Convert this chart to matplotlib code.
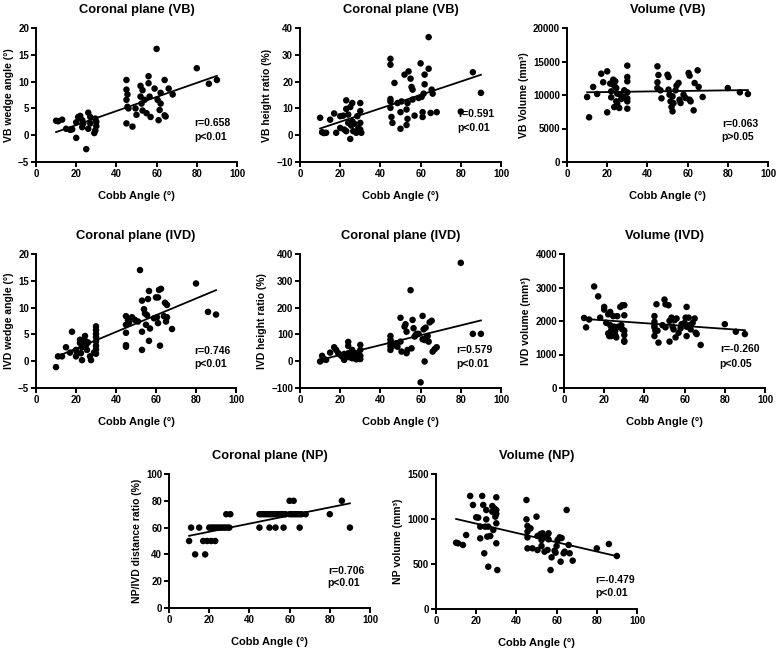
import numpy as np
import matplotlib
matplotlib.use("Agg")
from matplotlib import pyplot as plt

plt.rcParams['font.family'] = ['Liberation Sans', 'DejaVu Sans']
plt.rcParams['font.weight'] = 'bold'

# ---- data ----
vb_wedge_x = [10, 11, 13, 15, 17, 18, 20, 20, 21, 22, 23, 23, 23.5, 25, 26, 26, 27, 27, 29, 29.5, 30, 30, 29.5,
              45, 45, 45.5, 45, 45.5, 45, 46, 48, 50, 49.5, 52, 52, 52.5, 53, 53, 54, 55, 56, 56, 56.5, 57, 59, 60,
              60.5, 61, 61.5, 62, 62, 64, 64, 64.5, 66, 68, 80, 86, 90]
vb_wedge_y = [2.7, 2.6, 2.9, 1.2, 1.0, 1.1, -0.5, 2.4, 3.4, 3.6, 1.5, 2.8, 2.2, -2.6, 4.2, 1.2, 3.4, 2.2, 0.4, 3.1,
              2.5, 1.7, 0.9,
              10.3, 8.5, 7.6, 6.6, 5.3, 2.2, 5.0, 1.6, 3.8, 5.0, 9.2, 7.2, 5.9, 4.6, 8.4, 6.6, 4.1, 11.0, 9.7,
              7.2, 3.4, 8.7, 16.1, 6.6, 2.8, 4.7, 7.9, 5.9, 10.3, 3.7, 3.5, 8.7, 7.6, 12.5, 9.6, 10.3]

vb_height_x = [10, 11, 13, 12, 15, 17, 18, 20, 20, 21.5, 22, 23, 23, 23, 24, 24, 25, 25, 25.5, 26, 26, 26.5, 27,
               28, 28.5, 29, 30, 30, 30, 30, 30.5,
               45, 45, 45, 45, 45, 45.5, 46, 47, 48.5, 50, 50, 50.5, 52, 53, 53.5, 53, 53.5, 54, 55, 55.5, 56,
               56, 57, 59, 60, 60.5, 61, 61, 61.5, 62, 62, 64, 64, 65, 65.5, 66, 68, 80, 86, 90]
vb_height_y = [6.5, 1.1, 0.9, 0.8, 5.8, 8.1, 0.9, 7.1, 2.7, 7.3, 2.1, 9.8, 13.0, 1.5, 7.7, 4.6, 10.5, -1.4, 3.6,
               12.0, 5.2, 1.5, 4.3, 0.9, 7.1, 2.7, 12.0, 9.0, 4.6, 2.1, 0.9,
               28.5, 26.3, 13.5, 12.6, 10.2, 6.8, 4.6, 19.5, 12.0, 2.4, 8.6, 12.6, 22.6, 9.6, 12.0, 3.8, 6.1,
               23.8, 21.1, 18.0, 17.0, 13.3, 7.3, 13.9, 26.8, 14.3, 6.8, 8.6, 15.5, 22.6, 19.0, 36.6, 24.8, 8.3,
               17.0, 15.5, 8.6, 8.8, 23.5, 15.8]

vb_vol_x = [10, 11, 13, 15, 17, 18, 20, 20, 21.5, 22, 22, 23, 23.5, 23.5, 24, 24.5, 24.5, 25, 25, 26, 26.5, 27,
            28, 28.5, 30, 30, 30, 30, 30, 30, 30,
            45, 45.5, 45, 45, 46.5, 47, 50, 50.5, 50.5, 51, 51.5, 52, 52.5, 52.5, 53, 54, 54.5, 55.5, 56, 56.5,
            58, 59, 60.5, 61, 61, 61.5, 63, 63.5, 65, 65.5, 67.5, 80, 86, 90]
vb_vol_y = [9700, 6670, 11200, 10150, 13180, 11900, 13530, 7410, 11700, 10550, 9650, 12290, 11400, 8200, 12050,
            11040, 9050, 10200, 8700, 8060, 10050, 9400, 9700, 10700, 14380, 12690, 12040, 10400, 9050, 7960,
            9500,
            14280, 12980, 11890, 11040, 10700, 9500, 13030, 12690, 10800, 10050, 9050, 8200, 7560, 9800, 8800,
            10700, 11400, 11800, 9300, 8800, 10050, 9550, 13280, 12890, 9300, 9050, 7710, 11790, 13680, 11200,
            9700, 11040, 10400, 10150]

ivd_wedge_x = [10, 11, 13, 15, 17, 18, 20, 20, 20.5, 22, 22, 22.5, 23, 23, 23.5, 24.5, 24.5, 25, 25.5, 26, 27,
               27.5, 29, 30, 30, 30, 30, 30, 30, 30, 30,
               45, 45, 45, 45, 45, 46, 46.5, 48, 49.5, 51, 52, 53, 53, 53, 54, 54.5, 55, 55.5, 56, 56.5, 56.5,
               57, 59, 60, 60.5, 61, 61, 61.5, 62, 62.5, 64, 64.5, 65, 65.5, 65.5, 68, 80, 86, 90]
ivd_wedge_y = [-1.1, 0.9, 0.9, 2.6, 1.6, 5.5, 2.1, 0.9, 1.6, 4.0, 3.4, 1.5, 2.6, 0.2, 3.7, 4.7, 3.8, 3.0, 2.1,
               3.5, 0.9, 0.2, 1.6, 6.5, 5.8, 5.1, 4.5, 3.7, 2.9, 2.2, 1.4,
               8.4, 6.8, 5.3, 3.0, 2.7, 7.7, 7.2, 8.2, 7.7, 7.4, 17.0, 11.3, 5.5, 2.1, 9.7, 8.9, 6.8, 8.6, 11.6,
               13.1, 3.8, 6.1, 8.0, 11.9, 8.2, 7.1, 11.9, 13.3, 2.9, 13.5, 8.4, 10.9, 7.4, 10.5, 8.2, 6.0, 14.5,
               9.2, 8.7]

ivd_height_x = [10, 11, 12, 13, 15, 17, 18, 19, 20, 21, 22, 22, 23, 24, 24, 24, 24.5, 25, 26, 26, 27, 28, 28,
                29, 30, 30, 30, 30,
                45, 45, 45, 45, 45, 45.5, 46, 48, 48.5, 50, 50, 50.5, 52, 52.5, 53, 53, 53.5, 55, 55.5, 56, 56.5,
                57, 57.5, 58, 59, 60, 61, 61, 61.5, 62, 62, 62.5, 63, 63.5, 64, 64.5, 65.5, 66, 67, 68, 80, 86, 90]
ivd_height_y = [-1, 20, 7, 5, 32, 52, 42, 30, 24, 17, 27, 5, 20, 72, 57, 30, 15, 22, 42, 11, 30, 15, 7, 24, 61,
                42, 20, 8,
                94, 80, 67, 55, 42, 70, 57, 67, 54, 73, 162, 36, 129, 138, 110, 30, 42, 265, 48, 154, 123, 92,
                96, 102, 102, -79, 169, 82, 119, 79, -1, 125, 90, 94, 73, 145, 151, 36, 45, 52, 367, 102, 102]

ivd_vol_x = [10, 11, 12.5, 15, 17, 18, 20, 20, 21, 22, 22, 22.5, 23, 23, 23.5, 23.5, 24.5, 25, 25.5, 25.5, 26,
             26.5, 27, 28, 28.5, 29, 29, 30, 30, 30, 30, 30, 30,
             45, 45, 45, 45, 45, 45.5, 46, 46.5, 47, 49, 50, 50.5, 50.5, 52, 52.5, 52.5, 53.5, 54, 54.5, 55, 55.5,
             56, 57, 58, 58.5, 60, 60.5, 61, 61, 61, 62, 62.5, 63, 64, 65, 65.5, 66, 68, 80, 85.5, 90]
ivd_vol_y = [2090, 1810, 2045, 3030, 2735, 2100, 2420, 2340, 1945, 2200, 1630, 1550, 2270, 1875, 1730, 1550,
             2145, 1830, 1710, 1580, 1510, 2145, 1830, 2420, 1875, 1750, 2470, 2170, 2470, 1710, 1580, 1410,
             1380,
             2145, 1975, 1875, 1810, 1550, 1700, 2500, 1710, 1355, 1875, 2640, 2500, 1810, 2470, 1385, 2005,
             2100, 1830, 1750, 2025, 1510, 2075, 1650, 1780, 1905, 1945, 2100, 2420, 1830, 1550, 2100, 1875,
             1750, 1945, 2075, 1650, 1610, 1285, 1905, 1680, 1610]

np_ratio_x = [60, 62, 86,
              28.5, 30.5, 45, 46, 47, 48, 49, 50, 51, 52, 53, 54, 55, 56, 57, 58, 60, 61, 62, 63, 64, 65, 66,
              68, 80,
              11, 15, 20, 21, 22, 23, 24, 25, 26, 27, 28, 29, 30, 45, 50, 53, 57, 65, 90,
              10, 17, 19, 21, 23,
              13, 18]
np_ratio_y = [80, 80, 80,
              70, 70, 70, 70, 70, 70, 70, 70, 70, 70, 70, 70, 70, 70, 70, 70, 70, 70, 70, 70, 70, 70, 70, 70,
              70,
              60, 60, 60, 60, 60, 60, 60, 60, 60, 60, 60, 60, 60, 60, 60, 60, 60, 60, 60,
              50, 50, 50, 50, 50,
              40, 40]

np_vol_x = [10, 11, 13.4, 15, 17, 18.4, 20, 21, 22, 22, 23, 23.5, 24, 24.5, 25, 25, 25.5, 26, 26, 27, 28, 28,
            28.5, 29, 29.5, 30, 30, 30, 30, 30, 30.5,
            45, 45, 45.5, 45.5, 45.5, 45.5, 47, 48, 50, 50.5, 50.5, 52, 52.5, 52.5, 53, 53.5, 54, 55, 55.5, 56,
            56, 57, 57.5, 59, 59.5, 60, 60.5, 61.5, 62, 62.5, 63.5, 64, 65, 66, 66.5, 68, 80, 86, 90]
np_vol_y = [737, 730, 711, 822, 1256, 1156, 1019, 1015, 915, 785, 1256, 1156, 619, 915, 1100, 996, 804, 915,
            470, 811, 1144, 1081, 878, 1119, 1026, 1056, 1241, 1100, 952, 730, 433,
            1211, 996, 922, 859, 796, 674, 896, 674, 1026, 811, 655, 833, 767, 700, 841, 804, 637, 804, 656,
            841, 774, 433, 574, 648, 626, 700, 767, 796, 526, 789, 619, 637, 1100, 711, 619, 537, 674, 722, 589]

titles = ["Coronal plane (VB)", "Coronal plane (VB)", "Volume (VB)",
          "Coronal plane (IVD)", "Coronal plane (IVD)", "Volume (IVD)",
          "Coronal plane (NP)", "Volume (NP)"]
ylabels = ["VB wedge angle (°)", "VB height ratio (%)", "VB Volume (mm³)",
           "IVD wedge angle (°)", "IVD height ratio (%)", "IVD volume (mm³)",
           "NP/IVD distance ratio (%)", "NP volume (mm³)"]
r_labels = ["r=0.658", "r=0.591", "r=0.063", "r=0.746", "r=0.579", "r=-0.260", "r=0.706", "r=-0.479"]
p_labels = ["p<0.01", "p<0.01", "p>0.05", "p<0.01", "p<0.01", "p<0.05", "p<0.01", "p<0.01"]
y_ticks = [[-5, 0, 5, 10, 15, 20], [-10, 0, 10, 20, 30, 40], [0, 5000, 10000, 15000, 20000],
           [-5, 0, 5, 10, 15, 20], [-100, 0, 100, 200, 300, 400], [0, 1000, 2000, 3000, 4000],
           [0, 20, 40, 60, 80, 100], [0, 500, 1000, 1500]]
x_ticks = [0, 20, 40, 60, 80, 100]

xs = [vb_wedge_x, vb_height_x, vb_vol_x, ivd_wedge_x, ivd_height_x, ivd_vol_x, np_ratio_x, np_vol_x]
ys = [vb_wedge_y, vb_height_y, vb_vol_y, ivd_wedge_y, ivd_height_y, ivd_vol_y, np_ratio_y, np_vol_y]

# axes boxes in pixels (left, right, top, bottom) on a 777x651 canvas
W, H = 777, 651
boxes = [(36, 237, 28, 162), (300, 501, 28, 162), (567, 768, 28, 162),
         (36, 236, 254, 388), (300, 501, 254, 388), (564, 765, 254, 388),
         (169, 370, 474, 608), (436, 637, 474, 609)]
text_pos = [(0.787, 0.29, 0.19), (0.785, 0.355, 0.255), (0.77, 0.284, 0.19),
            (0.79, 0.273, 0.18), (0.777, 0.285, 0.18), (0.775, 0.289, 0.18),
            (0.79, 0.278, 0.187), (0.793, 0.215, 0.116)]

fig = plt.figure(figsize=(W / 100, H / 100), dpi=100)

for i in range(8):
    l, r, t, b = boxes[i]
    ax = fig.add_axes([l / W, 1 - b / H, (r - l) / W, (b - t) / H])
    x = np.array(xs[i], dtype=float)
    y = np.array(ys[i], dtype=float)

    ax.scatter(x, y, s=22, color='black', edgecolors='none', clip_on=False, zorder=3)

    # linear regression line over the data range
    k, c = np.polyfit(x, y, 1)
    xl = np.array([x.min(), x.max()])
    ax.plot(xl, k * xl + c, color='black', lw=1.3, zorder=2)

    ax.set_xlim(0, 100)
    ax.set_ylim(y_ticks[i][0], y_ticks[i][-1])
    ax.set_xticks(x_ticks)
    ax.set_yticks(y_ticks[i])
    for s in ['top', 'right']:
        ax.spines[s].set_visible(False)
    for s in ['left', 'bottom']:
        ax.spines[s].set_linewidth(1.4)
    ax.tick_params(direction='out', length=3.5, width=1.4, labelsize=7, pad=1.5)
    for lab in ax.get_xticklabels() + ax.get_yticklabels():
        lab.set_fontweight('bold')

    ax.set_title(titles[i], fontsize=9.3, fontweight='bold', pad=11)
    ax.set_xlabel("Cobb Angle (°)", fontsize=8, fontweight='bold', labelpad=9)
    ax.set_ylabel(ylabels[i], fontsize=7.5, fontweight='bold', labelpad=3)

    tx, ry, py = text_pos[i]
    ax.text(tx, ry, r_labels[i], transform=ax.transAxes, fontsize=7.5, fontweight='bold', va='center')
    ax.text(tx, py, p_labels[i], transform=ax.transAxes, fontsize=7.5, fontweight='bold', va='center')

fig.savefig("out.png", dpi=100)
